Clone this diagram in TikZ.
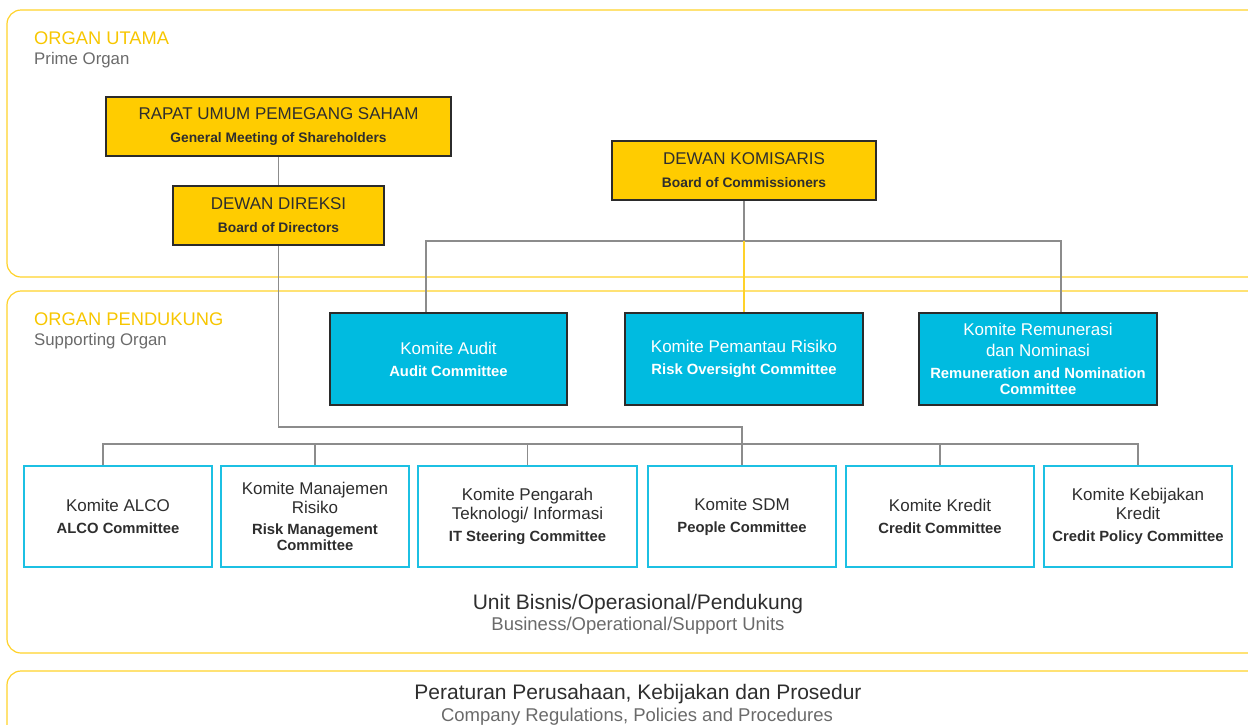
\documentclass[tikz,border=0pt]{standalone}
\usepackage{fontspec}
\setmainfont{Liberation Sans}
\usetikzlibrary{calc}
\usepackage{xcolor}

\definecolor{organyellow}{HTML}{FFCC00}
\definecolor{panelyellow}{HTML}{FFD22A}
\definecolor{headyellow}{HTML}{F7C600}
\definecolor{boardblue}{HTML}{00BBE0}
\definecolor{cyanedge}{HTML}{1CC0E3}
\definecolor{boxedge}{HTML}{2B2B2B}
\definecolor{darktext}{HTML}{2E2E2E}
\definecolor{greytext}{HTML}{6A6A6A}
\definecolor{linkgrey}{HTML}{8C8C8C}

\newcommand{\ttl}{\fontsize{17}{21}\selectfont}
\newcommand{\sbt}{\fontsize{14.8}{16}\selectfont\bfseries}
\newcommand{\ysbt}{\fontsize{13.8}{16}\selectfont\bfseries}

\begin{document}
\begin{tikzpicture}[x=1pt, y=-1pt,
    panel/.style={draw=panelyellow, line width=1.2pt, rounded corners=14pt},
    prime/.style={draw=boxedge, line width=2pt, fill=organyellow, align=center, text=darktext, minimum height=59pt, inner sep=0pt, font=\fontsize{17}{23}\selectfont},
    board/.style={draw=boxedge, line width=2pt, fill=boardblue, align=center, text=white, minimum width=238pt, minimum height=92pt, inner sep=0pt, font=\fontsize{17}{21}\selectfont},
    committee/.style={draw=cyanedge, line width=2pt, fill=white, align=center, text=darktext, minimum width=188pt, minimum height=101pt, inner sep=0pt, font=\fontsize{17}{20}\selectfont},
    heading/.style={anchor=west, inner sep=0pt, text=headyellow, font=\fontsize{18.3}{20}\selectfont},
    headsub/.style={anchor=west, inner sep=0pt, text=greytext, font=\fontsize{16.8}{20}\selectfont},
    unit/.style={inner sep=0pt, text=darktext, font=\fontsize{21}{24}\selectfont},
    unitsub/.style={inner sep=0pt, text=greytext, font=\fontsize{18.5}{22}\selectfont},
    link/.style={draw=linkgrey, line width=1.3pt},
]
\useasboundingbox (0,0) rectangle (1248,724);

% --- panels ---
\draw[panel] (7,10) rectangle (1264,277);
\draw[panel] (7,291) rectangle (1264,653);
\draw[panel] (7,671) rectangle (1264,760);

\node[heading] (prime-title) at (34,38) {ORGAN UTAMA};
\node[headsub] (prime-sub) at (34,60) {Prime Organ};
\node[heading] (support-title) at (34,319) {ORGAN PENDUKUNG};
\node[headsub] (support-sub) at (34,341) {Supporting Organ};

% --- prime organ ---
\node[prime, minimum width=345pt] (rups) at (278.5,126.5) {RAPAT UMUM PEMEGANG SAHAM\\{\ysbt General Meeting of Shareholders}};
\node[prime, minimum width=211pt] (direksi) at (278.5,215.5) {DEWAN DIREKSI\\{\ysbt Board of Directors}};
\node[prime, minimum width=264pt] (komisaris) at (744,170.5) {DEWAN KOMISARIS\\{\ysbt Board of Commissioners}};

% --- board committees ---
\node[board, minimum width=237pt] (audit) at (448.5,359) {Komite Audit\\[1pt]{\sbt Audit Committee}};
\node[board] (pemantau) at (744,359) {Komite Pemantau Risiko\\[1pt]{\sbt Risk Oversight Committee}};
\node[board] (remunerasi) at (1038,359) {Komite Remunerasi\\dan Nominasi\\[1pt]{\sbt Remuneration and Nomination}\\[-5pt]{\sbt Committee}};

% --- directors' committees ---
\node[committee] (alco) at (118,516.5) {Komite ALCO\\[2pt]{\sbt ALCO Committee}};
\node[committee] (risiko) at (315,516.5) {Komite Manajemen\\[-1pt]Risiko\\[1pt]{\sbt Risk Management}\\[-4pt]{\sbt Committee}};
\node[committee, minimum width=219pt] (it) at (527.5,516.5) {Komite Pengarah\\[-1pt]Teknologi/ Informasi\\[2pt]{\sbt IT Steering Committee}};
\node[committee] (sdm) at (742,516.5) {Komite SDM\\[2pt]{\sbt People Committee}};
\node[committee] (kredit) at (940,516.5) {Komite Kredit\\[2pt]{\sbt Credit Committee}};
\node[committee] (kebijakan) at (1138,516.5) {Komite Kebijakan\\[-1pt]Kredit\\[2pt]{\sbt Credit Policy Committee}};

\node[unit] (units) at (638,604) {Unit Bisnis/Operasional/Pendukung};
\node[unitsub] (units-en) at (638,626) {Business/Operational/Support Units};
\node[unit] (rules) at (638,694) {Peraturan Perusahaan, Kebijakan dan Prosedur};
\node[unitsub] (rules-en) at (637,717) {Company Regulations, Policies and Procedures};

% --- connectors ---
\coordinate (kombar) at (0,241);
\coordinate (dirjoin) at (742,427);
\coordinate (combar) at (0,444);

\draw[link] (rups.south) -- (direksi.north);
\draw[link] (direksi.south) |- (dirjoin) -- (sdm.north);

\draw[link] (komisaris.south) -- (komisaris.south |- kombar);
\draw[link] ([xshift=-22.5pt]audit.north) |- ([xshift=23pt]remunerasi.north |- kombar) -- ([xshift=23pt]remunerasi.north);
\draw[draw=panelyellow, line width=1.3pt] (pemantau.north |- kombar) -- (pemantau.north);

\draw[link] ([xshift=-15pt]alco.north) |- (kebijakan.north |- combar) -- (kebijakan.north);
\foreach \c in {risiko,it,kredit}
    \draw[link] (\c.north) -- (\c.north |- combar);
\end{tikzpicture}
\end{document}
